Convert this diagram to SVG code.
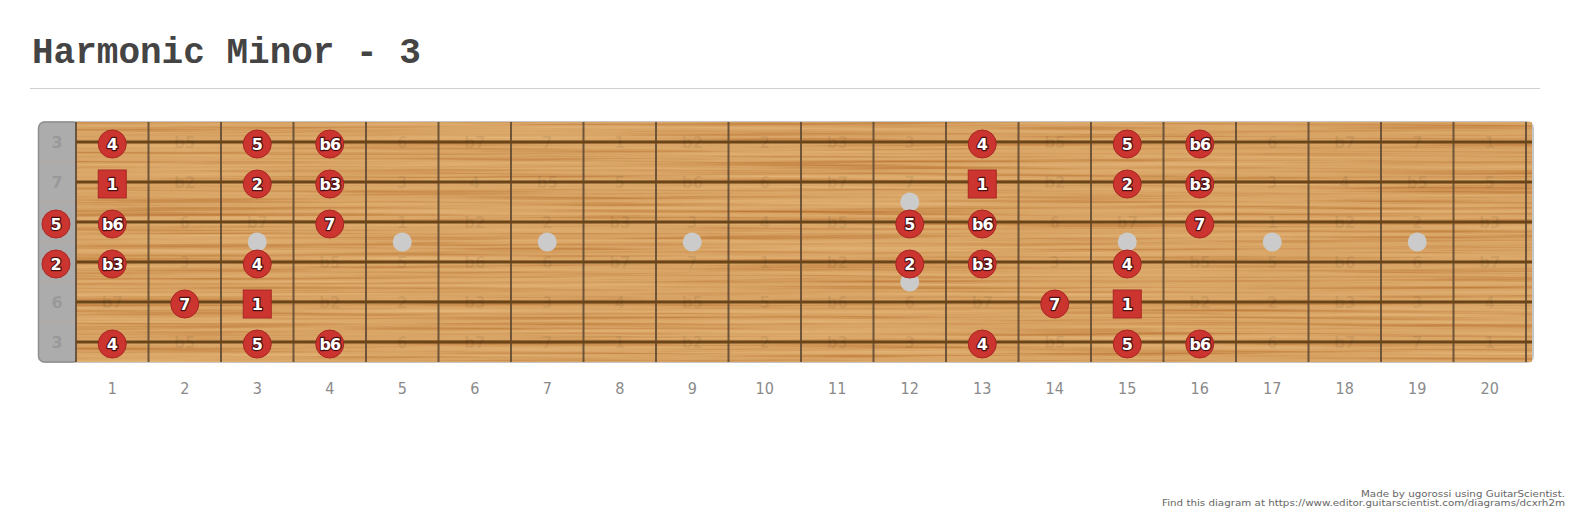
<svg xmlns="http://www.w3.org/2000/svg" width="1573" height="519" viewBox="0 0 1573 519">
<defs>
<style>
.title{font-family:"Liberation Mono","Courier New",monospace;font-weight:bold;font-size:36px;fill:#444}
.fret{stroke:#5a4633;stroke-width:2;stroke-opacity:0.85}
.str{stroke:#6a4519;stroke-width:3}
.inlay{fill:#cbcbcb}
.faded{font-family:"DejaVu Sans",sans-serif;font-weight:bold;font-size:15px;fill:#000;fill-opacity:0.08;text-anchor:middle}
.nutl{font-family:"DejaVu Sans",sans-serif;font-weight:bold;font-size:16px;fill:#999;text-anchor:middle}
.dot{fill:#cc3430;stroke:#a82622;stroke-width:1}
.lbl{font-family:"DejaVu Sans",sans-serif;font-weight:bold;font-size:16px;fill:#fff;stroke:#4a1010;stroke-width:2.4;paint-order:stroke;stroke-linejoin:round;text-anchor:middle}
.fl{letter-spacing:-1px}
.num{font-family:"DejaVu Sans Condensed","DejaVu Sans",sans-serif;font-size:16px;fill:#8a8a8a;text-anchor:middle}
.foot{font-family:"DejaVu Sans",sans-serif;font-size:9px;fill:#666}
</style>
<filter id="grain" x="0" y="0" width="100%" height="100%" color-interpolation-filters="sRGB">
<feTurbulence type="fractalNoise" baseFrequency="0.003 0.3" numOctaves="4" seed="7" result="n"/>
<feColorMatrix in="n" type="matrix" values="0 0 0 0 0.72  0 0 0 0 0.44  0 0 0 0 0.18  2 0 0 0 -0.97" result="c"/>
<feColorMatrix in="n" type="matrix" values="0 0 0 0 0.91  0 0 0 0 0.74  0 0 0 0 0.50  -2 0 0 0 0.9" result="d"/>
<feMerge result="m"><feMergeNode in="c"/><feMergeNode in="d"/></feMerge>
<feComposite in="m" in2="SourceGraphic" operator="in"/>
</filter>
</defs>
<rect width="1573" height="519" fill="#fff"/>
<text class="title" x="32" y="63">Harmonic Minor - 3</text>
<line x1="30" y1="88.5" x2="1540" y2="88.5" stroke="#cfcfcf" stroke-width="1"/>

<g id="board">
<rect x="38" y="121" width="1496" height="242" rx="7" fill="#c6c6c6"/>
<rect x="38.5" y="122" width="40" height="240" rx="6" fill="#acacac" stroke="#8f8f8f" stroke-width="1.5"/>
<rect x="76" y="122" width="1456" height="240" fill="#d9a566"/>
<rect x="76" y="122" width="1456" height="240" fill="#d9a566" filter="url(#grain)"/>
<line x1="40" y1="162" x2="76" y2="162" stroke="#c8a888" stroke-opacity="0.5"/>
<line x1="40" y1="202" x2="76" y2="202" stroke="#c8a888" stroke-opacity="0.5"/>
<line x1="40" y1="242" x2="76" y2="242" stroke="#c8a888" stroke-opacity="0.5"/>
<line x1="40" y1="282" x2="76" y2="282" stroke="#c8a888" stroke-opacity="0.5"/>
<line x1="40" y1="322" x2="76" y2="322" stroke="#c8a888" stroke-opacity="0.5"/>
</g>

<g id="inlays">
<circle class="inlay" cx="257.25" cy="242" r="9.5"/>
<circle class="inlay" cx="402.25" cy="242" r="9.5"/>
<circle class="inlay" cx="547.25" cy="242" r="9.5"/>
<circle class="inlay" cx="692.25" cy="242" r="9.5"/>
<circle class="inlay" cx="909.75" cy="202" r="9.5"/>
<circle class="inlay" cx="909.75" cy="282" r="9.5"/>
<circle class="inlay" cx="1127.25" cy="242" r="9.5"/>
<circle class="inlay" cx="1272.25" cy="242" r="9.5"/>
<circle class="inlay" cx="1417.25" cy="242" r="9.5"/>
</g>

<g id="frets">
<line class="fret" x1="76" y1="122" x2="76" y2="362"/>
<line class="fret" x1="148.5" y1="122" x2="148.5" y2="362"/>
<line class="fret" x1="221" y1="122" x2="221" y2="362"/>
<line class="fret" x1="293.5" y1="122" x2="293.5" y2="362"/>
<line class="fret" x1="366" y1="122" x2="366" y2="362"/>
<line class="fret" x1="438.5" y1="122" x2="438.5" y2="362"/>
<line class="fret" x1="511" y1="122" x2="511" y2="362"/>
<line class="fret" x1="583.5" y1="122" x2="583.5" y2="362"/>
<line class="fret" x1="656" y1="122" x2="656" y2="362"/>
<line class="fret" x1="728.5" y1="122" x2="728.5" y2="362"/>
<line class="fret" x1="801" y1="122" x2="801" y2="362"/>
<line class="fret" x1="873.5" y1="122" x2="873.5" y2="362"/>
<line class="fret" x1="946" y1="122" x2="946" y2="362"/>
<line class="fret" x1="1018.5" y1="122" x2="1018.5" y2="362"/>
<line class="fret" x1="1091" y1="122" x2="1091" y2="362"/>
<line class="fret" x1="1163.5" y1="122" x2="1163.5" y2="362"/>
<line class="fret" x1="1236" y1="122" x2="1236" y2="362"/>
<line class="fret" x1="1308.5" y1="122" x2="1308.5" y2="362"/>
<line class="fret" x1="1381" y1="122" x2="1381" y2="362"/>
<line class="fret" x1="1453.5" y1="122" x2="1453.5" y2="362"/>
<line class="fret" x1="1526" y1="122" x2="1526" y2="362"/>
</g>

<g id="strings">
<line class="str" x1="76" y1="142" x2="1532" y2="142"/>
<line class="str" x1="76" y1="182" x2="1532" y2="182"/>
<line class="str" x1="76" y1="222" x2="1532" y2="222"/>
<line class="str" x1="76" y1="262" x2="1532" y2="262"/>
<line class="str" x1="76" y1="302" x2="1532" y2="302"/>
<line class="str" x1="76" y1="342" x2="1532" y2="342"/>
</g>

<g id="open-labels">
<text class="nutl" x="57" y="148">3</text>
<text class="nutl" x="57" y="188">7</text>
<text class="nutl" x="57" y="308">6</text>
<text class="nutl" x="57" y="348">3</text>
</g>

<g id="faded-labels">
<text class="faded" x="184.75" y="148">b5</text>
<text class="faded" x="402.25" y="148">6</text>
<text class="faded" x="474.75" y="148">b7</text>
<text class="faded" x="547.25" y="148">7</text>
<text class="faded" x="619.75" y="148">1</text>
<text class="faded" x="692.25" y="148">b2</text>
<text class="faded" x="764.75" y="148">2</text>
<text class="faded" x="837.25" y="148">b3</text>
<text class="faded" x="909.75" y="148">3</text>
<text class="faded" x="1054.75" y="148">b5</text>
<text class="faded" x="1272.25" y="148">6</text>
<text class="faded" x="1344.75" y="148">b7</text>
<text class="faded" x="1417.25" y="148">7</text>
<text class="faded" x="1489.75" y="148">1</text>

<text class="faded" x="184.75" y="188">b2</text>
<text class="faded" x="402.25" y="188">3</text>
<text class="faded" x="474.75" y="188">4</text>
<text class="faded" x="547.25" y="188">b5</text>
<text class="faded" x="619.75" y="188">5</text>
<text class="faded" x="692.25" y="188">b6</text>
<text class="faded" x="764.75" y="188">6</text>
<text class="faded" x="837.25" y="188">b7</text>
<text class="faded" x="909.75" y="188">7</text>
<text class="faded" x="1054.75" y="188">b2</text>
<text class="faded" x="1272.25" y="188">3</text>
<text class="faded" x="1344.75" y="188">4</text>
<text class="faded" x="1417.25" y="188">b5</text>
<text class="faded" x="1489.75" y="188">5</text>

<text class="faded" x="184.75" y="228">6</text>
<text class="faded" x="257.25" y="228">b7</text>
<text class="faded" x="402.25" y="228">1</text>
<text class="faded" x="474.75" y="228">b2</text>
<text class="faded" x="547.25" y="228">2</text>
<text class="faded" x="619.75" y="228">b3</text>
<text class="faded" x="692.25" y="228">3</text>
<text class="faded" x="764.75" y="228">4</text>
<text class="faded" x="837.25" y="228">b5</text>
<text class="faded" x="1054.75" y="228">6</text>
<text class="faded" x="1127.25" y="228">b7</text>
<text class="faded" x="1272.25" y="228">1</text>
<text class="faded" x="1344.75" y="228">b2</text>
<text class="faded" x="1417.25" y="228">2</text>
<text class="faded" x="1489.75" y="228">b3</text>

<text class="faded" x="184.75" y="268">3</text>
<text class="faded" x="329.75" y="268">b5</text>
<text class="faded" x="402.25" y="268">5</text>
<text class="faded" x="474.75" y="268">b6</text>
<text class="faded" x="547.25" y="268">6</text>
<text class="faded" x="619.75" y="268">b7</text>
<text class="faded" x="692.25" y="268">7</text>
<text class="faded" x="764.75" y="268">1</text>
<text class="faded" x="837.25" y="268">b2</text>
<text class="faded" x="1054.75" y="268">3</text>
<text class="faded" x="1199.75" y="268">b5</text>
<text class="faded" x="1272.25" y="268">5</text>
<text class="faded" x="1344.75" y="268">b6</text>
<text class="faded" x="1417.25" y="268">6</text>
<text class="faded" x="1489.75" y="268">b7</text>

<text class="faded" x="112.25" y="308">b7</text>
<text class="faded" x="329.75" y="308">b2</text>
<text class="faded" x="402.25" y="308">2</text>
<text class="faded" x="474.75" y="308">b3</text>
<text class="faded" x="547.25" y="308">3</text>
<text class="faded" x="619.75" y="308">4</text>
<text class="faded" x="692.25" y="308">b5</text>
<text class="faded" x="764.75" y="308">5</text>
<text class="faded" x="837.25" y="308">b6</text>
<text class="faded" x="909.75" y="308">6</text>
<text class="faded" x="982.25" y="308">b7</text>
<text class="faded" x="1199.75" y="308">b2</text>
<text class="faded" x="1272.25" y="308">2</text>
<text class="faded" x="1344.75" y="308">b3</text>
<text class="faded" x="1417.25" y="308">3</text>
<text class="faded" x="1489.75" y="308">4</text>

<text class="faded" x="184.75" y="348">b5</text>
<text class="faded" x="402.25" y="348">6</text>
<text class="faded" x="474.75" y="348">b7</text>
<text class="faded" x="547.25" y="348">7</text>
<text class="faded" x="619.75" y="348">1</text>
<text class="faded" x="692.25" y="348">b2</text>
<text class="faded" x="764.75" y="348">2</text>
<text class="faded" x="837.25" y="348">b3</text>
<text class="faded" x="909.75" y="348">3</text>
<text class="faded" x="1054.75" y="348">b5</text>
<text class="faded" x="1272.25" y="348">6</text>
<text class="faded" x="1344.75" y="348">b7</text>
<text class="faded" x="1417.25" y="348">7</text>
<text class="faded" x="1489.75" y="348">1</text>
</g>

<g id="notes">
<g id="s1f1"><circle class="dot" cx="112.25" cy="144" r="14"/><text class="lbl" x="112.25" y="150">4</text></g>
<g id="s1f3"><circle class="dot" cx="257.25" cy="144" r="14"/><text class="lbl" x="257.25" y="150">5</text></g>
<g id="s1f4"><circle class="dot" cx="329.75" cy="144" r="14"/><text class="lbl fl" x="329.75" y="150">b6</text></g>
<g id="s1f13"><circle class="dot" cx="982.25" cy="144" r="14"/><text class="lbl" x="982.25" y="150">4</text></g>
<g id="s1f15"><circle class="dot" cx="1127.25" cy="144" r="14"/><text class="lbl" x="1127.25" y="150">5</text></g>
<g id="s1f16"><circle class="dot" cx="1199.75" cy="144" r="14"/><text class="lbl fl" x="1199.75" y="150">b6</text></g>

<g id="s2f1"><rect class="dot" x="98.25" y="170" width="28" height="28"/><text class="lbl" x="112.25" y="190">1</text></g>
<g id="s2f3"><circle class="dot" cx="257.25" cy="184" r="14"/><text class="lbl" x="257.25" y="190">2</text></g>
<g id="s2f4"><circle class="dot" cx="329.75" cy="184" r="14"/><text class="lbl fl" x="329.75" y="190">b3</text></g>
<g id="s2f13"><rect class="dot" x="968.25" y="170" width="28" height="28"/><text class="lbl" x="982.25" y="190">1</text></g>
<g id="s2f15"><circle class="dot" cx="1127.25" cy="184" r="14"/><text class="lbl" x="1127.25" y="190">2</text></g>
<g id="s2f16"><circle class="dot" cx="1199.75" cy="184" r="14"/><text class="lbl fl" x="1199.75" y="190">b3</text></g>

<g id="s3f0"><circle class="dot" cx="56" cy="224" r="14"/><text class="lbl" x="56" y="230">5</text></g>
<g id="s3f1"><circle class="dot" cx="112.25" cy="224" r="14"/><text class="lbl fl" x="112.25" y="230">b6</text></g>
<g id="s3f4"><circle class="dot" cx="329.75" cy="224" r="14"/><text class="lbl" x="329.75" y="230">7</text></g>
<g id="s3f12"><circle class="dot" cx="909.75" cy="224" r="14"/><text class="lbl" x="909.75" y="230">5</text></g>
<g id="s3f13"><circle class="dot" cx="982.25" cy="224" r="14"/><text class="lbl fl" x="982.25" y="230">b6</text></g>
<g id="s3f16"><circle class="dot" cx="1199.75" cy="224" r="14"/><text class="lbl" x="1199.75" y="230">7</text></g>

<g id="s4f0"><circle class="dot" cx="56" cy="264" r="14"/><text class="lbl" x="56" y="270">2</text></g>
<g id="s4f1"><circle class="dot" cx="112.25" cy="264" r="14"/><text class="lbl fl" x="112.25" y="270">b3</text></g>
<g id="s4f3"><circle class="dot" cx="257.25" cy="264" r="14"/><text class="lbl" x="257.25" y="270">4</text></g>
<g id="s4f12"><circle class="dot" cx="909.75" cy="264" r="14"/><text class="lbl" x="909.75" y="270">2</text></g>
<g id="s4f13"><circle class="dot" cx="982.25" cy="264" r="14"/><text class="lbl fl" x="982.25" y="270">b3</text></g>
<g id="s4f15"><circle class="dot" cx="1127.25" cy="264" r="14"/><text class="lbl" x="1127.25" y="270">4</text></g>

<g id="s5f2"><circle class="dot" cx="184.75" cy="304" r="14"/><text class="lbl" x="184.75" y="310">7</text></g>
<g id="s5f3"><rect class="dot" x="243.25" y="290" width="28" height="28"/><text class="lbl" x="257.25" y="310">1</text></g>
<g id="s5f14"><circle class="dot" cx="1054.75" cy="304" r="14"/><text class="lbl" x="1054.75" y="310">7</text></g>
<g id="s5f15"><rect class="dot" x="1113.25" y="290" width="28" height="28"/><text class="lbl" x="1127.25" y="310">1</text></g>

<g id="s6f1"><circle class="dot" cx="112.25" cy="344" r="14"/><text class="lbl" x="112.25" y="350">4</text></g>
<g id="s6f3"><circle class="dot" cx="257.25" cy="344" r="14"/><text class="lbl" x="257.25" y="350">5</text></g>
<g id="s6f4"><circle class="dot" cx="329.75" cy="344" r="14"/><text class="lbl fl" x="329.75" y="350">b6</text></g>
<g id="s6f13"><circle class="dot" cx="982.25" cy="344" r="14"/><text class="lbl" x="982.25" y="350">4</text></g>
<g id="s6f15"><circle class="dot" cx="1127.25" cy="344" r="14"/><text class="lbl" x="1127.25" y="350">5</text></g>
<g id="s6f16"><circle class="dot" cx="1199.75" cy="344" r="14"/><text class="lbl fl" x="1199.75" y="350">b6</text></g>
</g>

<g id="connectors"/>

<g id="fret-numbers">
<text class="num" x="112.25" y="394">1</text>
<text class="num" x="184.75" y="394">2</text>
<text class="num" x="257.25" y="394">3</text>
<text class="num" x="329.75" y="394">4</text>
<text class="num" x="402.25" y="394">5</text>
<text class="num" x="474.75" y="394">6</text>
<text class="num" x="547.25" y="394">7</text>
<text class="num" x="619.75" y="394">8</text>
<text class="num" x="692.25" y="394">9</text>
<text class="num" x="764.75" y="394">10</text>
<text class="num" x="837.25" y="394">11</text>
<text class="num" x="909.75" y="394">12</text>
<text class="num" x="982.25" y="394">13</text>
<text class="num" x="1054.75" y="394">14</text>
<text class="num" x="1127.25" y="394">15</text>
<text class="num" x="1199.75" y="394">16</text>
<text class="num" x="1272.25" y="394">17</text>
<text class="num" x="1344.75" y="394">18</text>
<text class="num" x="1417.25" y="394">19</text>
<text class="num" x="1489.75" y="394">20</text>
</g>

<g id="footer">
<text class="foot" x="1361" y="497" textLength="204" lengthAdjust="spacingAndGlyphs">Made by ugorossi using GuitarScientist.</text>
<text class="foot" x="1162" y="506" textLength="403" lengthAdjust="spacingAndGlyphs">Find this diagram at https://www.editor.guitarscientist.com/diagrams/dcxrh2m</text>
</g>
</svg>
